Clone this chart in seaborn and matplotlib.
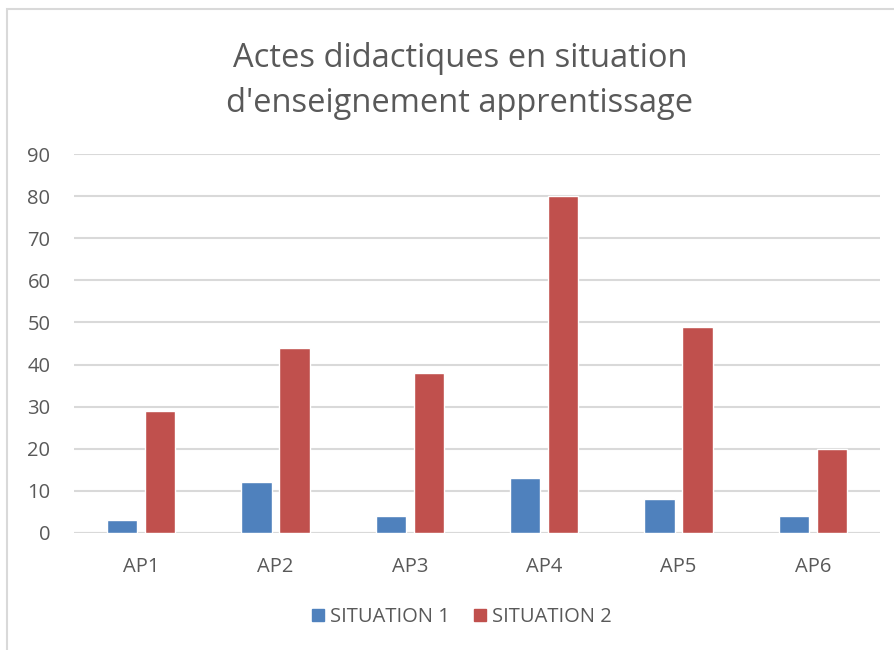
import matplotlib
matplotlib.use("Agg")
import matplotlib.pyplot as plt
import matplotlib.patches as mpatches
import seaborn as sns
import pandas as pd

categories = ["AP1", "AP2", "AP3", "AP4", "AP5", "AP6"]
situation1 = [3, 12, 4, 13, 8, 4]
situation2 = [29, 44, 38, 80, 49, 20]
series_names = ["SITUATION 1", "SITUATION 2"]
title = "Actes didactiques en situation\nd'enseignement apprentissage"
yticks = list(range(0, 100, 10))

df = pd.DataFrame({
    "cat": categories * 2,
    "val": situation1 + situation2,
    "series": [series_names[0]] * 6 + [series_names[1]] * 6,
})

sns.set_theme(style="white")
plt.rcParams["font.family"] = ["Open Sans", "DejaVu Sans"]

fig = plt.figure(figsize=(8.95, 6.5), dpi=100)
ax = fig.add_axes([74 / 895, 1 - 533 / 650, (880 - 74) / 895, (533 - 154) / 650])

colors = ["#4F81BD", "#C0504D"]
sns.barplot(data=df, x="cat", y="val", hue="series", palette=colors,
            width=0.567, gap=0.21, ax=ax, legend=False, saturation=1)

ax.set_ylim(0, 90)
ax.set_yticks(yticks)
ax.set_xlim(-0.5, 5.5)
ax.yaxis.grid(True, color="#D9D9D9", linewidth=1.5)
ax.set_axisbelow(True)
for s in ax.spines.values():
    s.set_visible(False)
ax.axhline(0, color="#D9D9D9", linewidth=1.5, zorder=0.5)
ax.set_xlabel("")
ax.set_ylabel("")
ax.tick_params(axis="both", length=0, labelsize=14.5, colors="#595959")
ax.tick_params(axis="y", pad=17)
ax.tick_params(axis="x", pad=17)

fig.text(460 / 895, 1 - 81 / 650, title, ha="center", va="center",
         fontsize=23.5, color="#595959", linespacing=1.45)

handles = [mpatches.Patch(color=c, label=n) for c, n in zip(colors, series_names)]
fig.legend(handles=handles, loc="center", bbox_to_anchor=(462 / 895, 1 - 617 / 650),
           ncol=2, frameon=False, fontsize=14.5, labelcolor="#595959",
           handlelength=0.6, handleheight=0.6, handletextpad=0.3, columnspacing=1.2)

# chart frame
fig.patches.append(mpatches.Rectangle((7 / 895, -0.1), 1.2, (1 - 9 / 650) + 0.1,
                                      transform=fig.transFigure, fill=False,
                                      edgecolor="#D9D9D9", linewidth=1.5))

fig.savefig("out.png", dpi=100)
